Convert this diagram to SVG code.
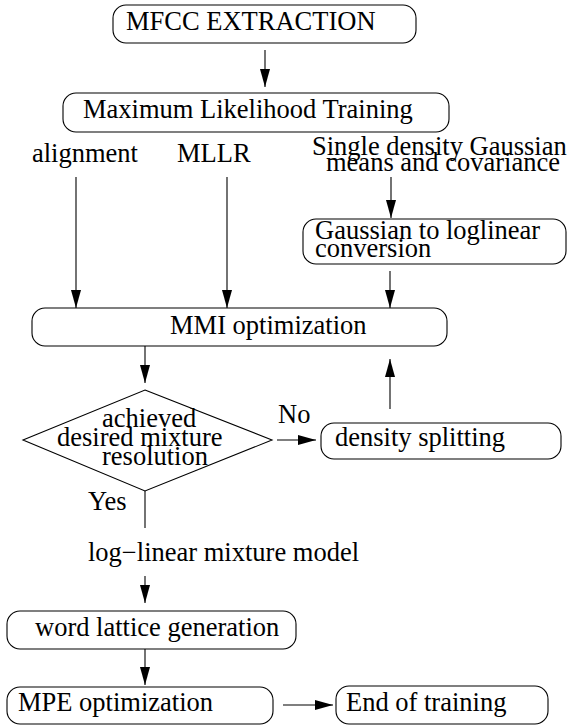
<svg xmlns="http://www.w3.org/2000/svg" width="567" height="725" viewBox="0 0 567 725">
<style>
.box{fill:#fff;stroke:#000;stroke-width:1.1}
.t{font-family:"Liberation Serif","Times New Roman",serif;font-size:26.5px;fill:#000}
.c{stroke:#000;stroke-width:1.1;fill:none;marker-end:url(#ah)}
.ln{stroke:#000;stroke-width:1.1;fill:none}
</style>
<defs>
<marker id="ah" viewBox="0 0 18 10" refX="18" refY="5" markerWidth="18" markerHeight="10" orient="auto" markerUnits="userSpaceOnUse">
<path d="M0,0 L18,5 L0,10 z" fill="#000"/>
</marker>
</defs>
<rect width="567" height="725" fill="#fff"/>
<g id="connectors">
<line class="c" x1="265" y1="50" x2="265" y2="87"/>
<line class="c" x1="76" y1="177" x2="76" y2="308"/>
<line class="c" x1="227" y1="177" x2="227" y2="308"/>
<line class="c" x1="391" y1="177" x2="391" y2="218"/>
<line class="c" x1="390" y1="271" x2="390" y2="308"/>
<line class="c" x1="145" y1="346" x2="145" y2="383"/>
<line class="c" x1="277" y1="440" x2="316" y2="440"/>
<line class="c" x1="390" y1="409" x2="390" y2="359"/>
<line class="ln" x1="145" y1="491" x2="145" y2="528"/>
<line class="c" x1="145" y1="576" x2="145" y2="603"/>
<line class="c" x1="145" y1="649" x2="145" y2="685"/>
<line class="c" x1="283" y1="705" x2="333" y2="705"/>
</g>
<g id="mfcc">
<rect class="box" x="113" y="5" width="303" height="38" rx="13"/>
<text class="t" x="126" y="30">MFCC EXTRACTION</text>
</g>
<g id="ml">
<rect class="box" x="63" y="93" width="386" height="39" rx="13"/>
<text class="t" x="83" y="118">Maximum Likelihood Training</text>
</g>
<g id="alignment"><text class="t" x="32" y="162">alignment</text></g>
<g id="mllr"><text class="t" x="177" y="162">MLLR</text></g>
<g id="single">
<text class="t" x="312" y="155">Single density Gaussian</text>
<text class="t" x="326" y="171">means and covariance</text>
</g>
<g id="gauss">
<rect class="box" x="303" y="219" width="263" height="45" rx="13"/>
<text class="t" x="315" y="239">Gaussian to loglinear</text>
<text class="t" x="315" y="257">conversion</text>
</g>
<g id="mmi">
<rect class="box" x="32" y="308" width="415" height="38" rx="13"/>
<text class="t" x="170" y="334">MMI optimization</text>
</g>
<g id="decision">
<polygon class="box" points="145,390 272,440 145,491 23,440"/>
<text class="t" x="102" y="427">achieved</text>
<text class="t" x="57" y="446">desired mixture</text>
<text class="t" x="102" y="465">resolution</text>
</g>
<g id="no"><text class="t" x="278" y="423">No</text></g>
<g id="split">
<rect class="box" x="321" y="423" width="240" height="36" rx="13"/>
<text class="t" x="335" y="446">density splitting</text>
</g>
<g id="yes"><text class="t" x="88" y="510">Yes</text></g>
<g id="llmm"><text class="t" x="88" y="561">log−linear mixture model</text></g>
<g id="lattice">
<rect class="box" x="7" y="611" width="289" height="38" rx="13"/>
<text class="t" x="35" y="636">word lattice generation</text>
</g>
<g id="mpe">
<rect class="box" x="7" y="687" width="266" height="37" rx="13"/>
<text class="t" x="18" y="711">MPE optimization</text>
</g>
<g id="end">
<rect class="box" x="336" y="686" width="212" height="38" rx="13"/>
<text class="t" x="346" y="711">End of training</text>
</g>
</svg>
